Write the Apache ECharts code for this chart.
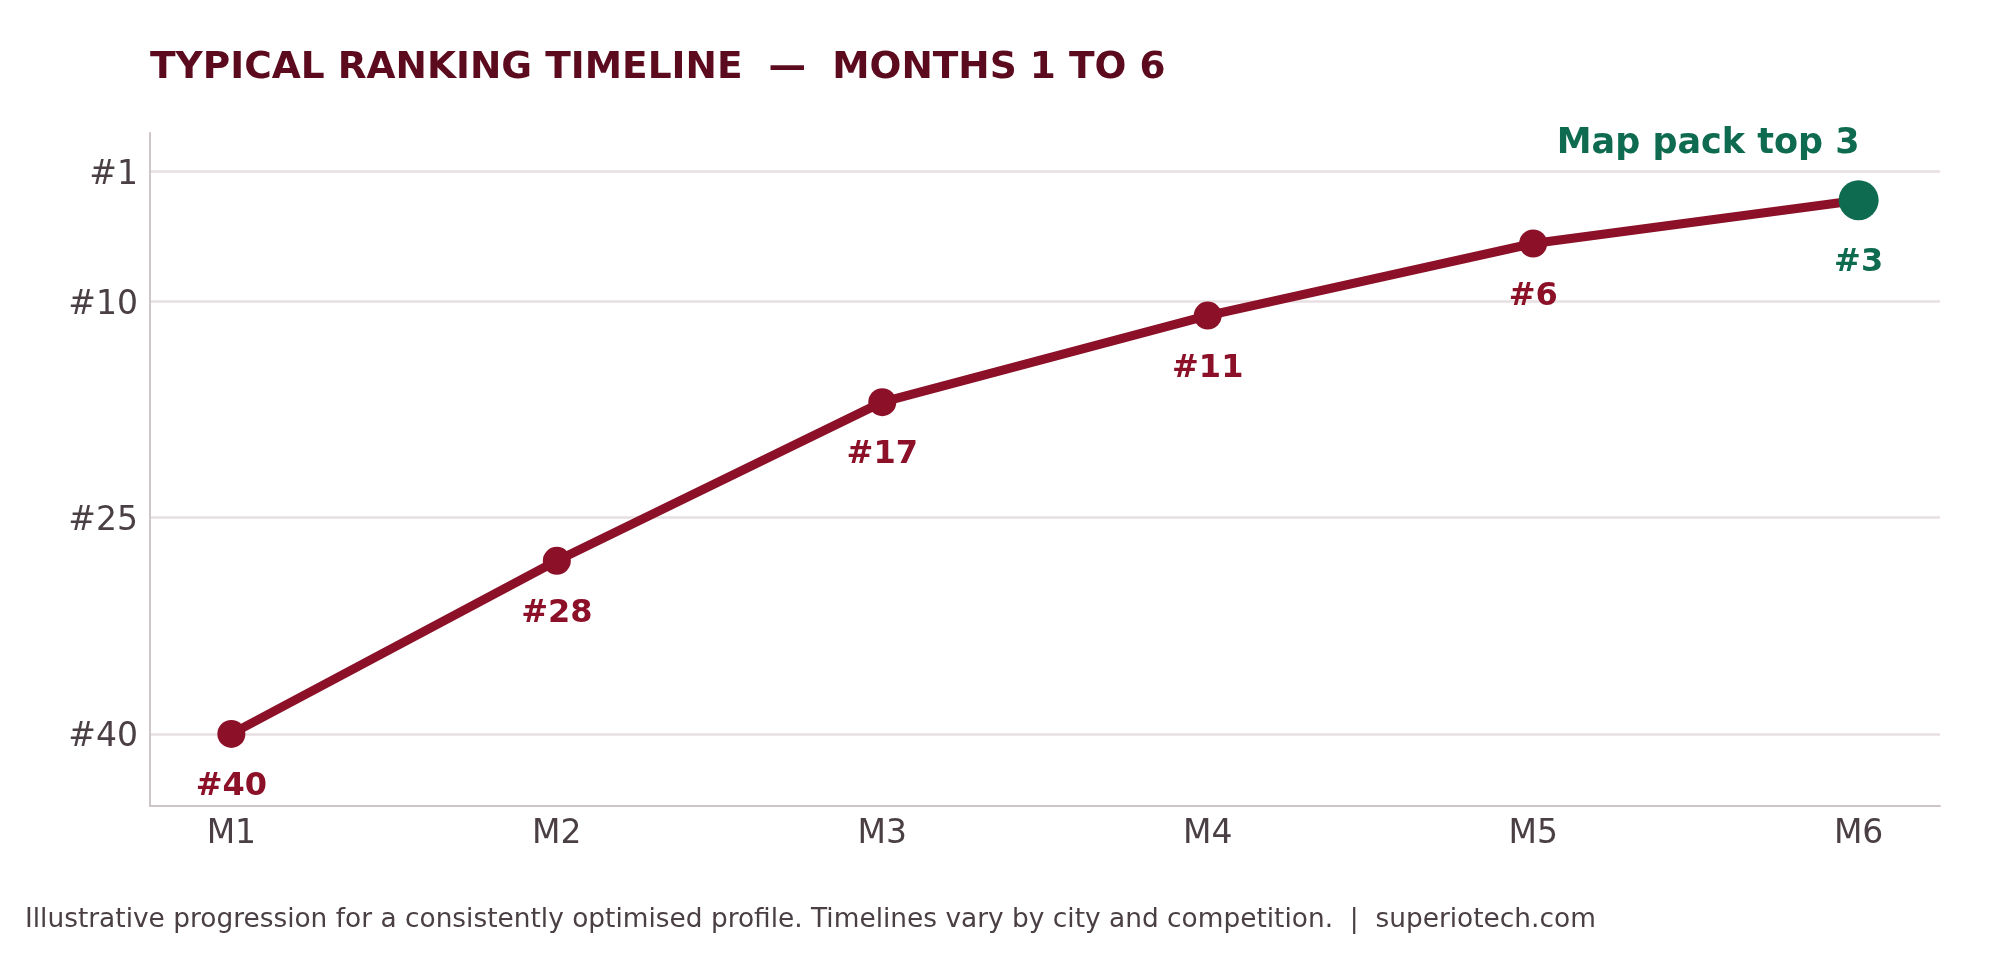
<!DOCTYPE html>
<html>
<head>
<meta charset="utf-8">
<title>Typical ranking timeline</title>
<script src="https://cdn.jsdelivr.net/npm/echarts@6/dist/echarts.min.js"></script>
<style>
  html, body { margin: 0; padding: 0; background: #ffffff; }
  #chart { width: 2000px; height: 960px; }
</style>
</head>
<body>
<div id="chart"></div>
<script>
// data
var monthLabels = ['M1', 'M2', 'M3', 'M4', 'M5', 'M6'];
var monthPos = [1, 2, 3, 4, 5, 6];
var ranks = [40, 28, 17, 11, 6, 3];
var rankTicks = [1, 10, 25, 40];

var FONT = 'DejaVu Sans';
var RED = '#8b1028';
var GREEN = '#0f6b4f';
var INK = '#4a3f44';

window.onload = function () {
    rankChart();
};

function rankChart() {
    var myChart = echarts.init(document.getElementById('chart'));

    var points = [];
    for (var i = 0; i < ranks.length; i++) {
        var p = { value: [monthPos[i], ranks[i]] };
        // last month highlighted in green
        if (i === ranks.length - 1) {
            p.symbolSize = 40;
            p.itemStyle = { color: GREEN };
            p.label = { color: GREEN, distance: 26 };
        }
        points.push(p);
    }

    var option = {
        backgroundColor: '#ffffff',
        animation: false,
        title: [
            {
                text: 'TYPICAL RANKING TIMELINE  \u2014  MONTHS 1 TO 6',
                left: 150,
                top: 49,
                padding: 0,
                textStyle: { fontFamily: FONT, fontSize: 37.5, fontWeight: 'bold', color: '#5c0a1e' }
            },
            {
                text: 'Illustrative progression for a consistently optimised profile. Timelines vary by city and competition.  |  superiotech.com',
                left: 25,
                top: 907,
                padding: 0,
                textStyle: { fontFamily: FONT, fontSize: 26.4, fontWeight: 'normal', color: INK }
            }
        ],
        grid: { left: 150, right: 60, top: 133, bottom: 154, containLabel: false },
        xAxis: {
            type: 'value',
            min: 0.75,
            max: 6.25,
            position: 'bottom',
            axisLine: { show: true, onZero: false, lineStyle: { color: '#cdc5c8', width: 2 } },
            axisTick: { show: false, customValues: monthPos },
            splitLine: { show: false },
            axisLabel: {
                customValues: monthPos,
                margin: 12,
                fontFamily: FONT,
                fontSize: 33,
                color: INK,
                formatter: function (v) { return monthLabels[v - 1]; }
            }
        },
        yAxis: {
            type: 'value',
            inverse: true,
            min: -1.66,
            max: 45,
            axisLine: { show: true, onZero: false, lineStyle: { color: '#cdc5c8', width: 2 } },
            axisTick: { show: false, customValues: rankTicks },
            splitLine: { show: true, lineStyle: { color: '#e8dfe2', width: 2.5 } },
            axisLabel: {
                customValues: rankTicks,
                margin: 12,
                fontFamily: FONT,
                fontSize: 33,
                color: INK,
                formatter: function (v) { return '{t|#' + v + '}'; },
                rich: {
                    t: { fontFamily: FONT, fontSize: 33, color: INK, padding: [8, 0, 0, 0] }
                }
            }
        },
        series: [
            {
                type: 'line',
                data: points,
                symbol: 'circle',
                symbolSize: 28,
                lineStyle: { color: RED, width: 9 },
                itemStyle: { color: RED },
                label: {
                    show: true,
                    position: 'bottom',
                    distance: 23,
                    fontFamily: FONT,
                    fontSize: 32,
                    fontWeight: 'bold',
                    color: RED,
                    formatter: function (p) { return '#' + p.value[1]; }
                }
            }
        ]
    };

    myChart.setOption(option);

    // annotation above the last point, right-aligned to it
    var last = ranks.length - 1;
    var anchor = myChart.convertToPixel({ gridIndex: 0 }, [monthPos[last], rankTicks[0]]);
    myChart.setOption({
        graphic: [
            {
                type: 'text',
                x: anchor[0] + 1,
                y: anchor[1] - 10,
                style: {
                    text: 'Map pack top 3',
                    textAlign: 'right',
                    textVerticalAlign: 'bottom',
                    fontFamily: FONT,
                    fontSize: 35,
                    fontWeight: 'bold',
                    fill: GREEN
                }
            }
        ]
    });
}
</script>
</body>
</html>
